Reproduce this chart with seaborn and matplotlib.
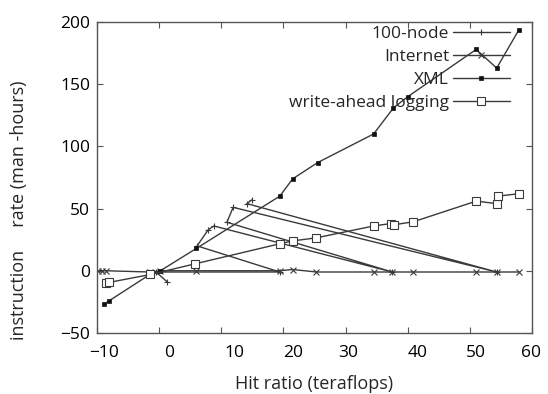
import numpy as np
import pandas as pd
import seaborn as sns
import matplotlib.pyplot as plt
from matplotlib.transforms import ScaledTranslation

# valores (orden de los datos tal cual, sin ordenar)
node_x = [1.3, -0.5, 19.4, 6.1, 7.9, 8.8, 37.5, 10.9, 11.9, 54.3, 14.1, 14.9]
node_y = [-9, -1, -1, 20, 33, 36, -1, 39, 51, -1, 54, 57]

inet_x = [-9.8, -9.2, -8.6, -1.5, 0.2, 6.0, 19.4, 21.5, 25.3, 34.5, 37.5, 40.9, 51.0, 54.3, 57.9]
inet_y = [0, 0, 0, -1, 0, 0, 0, 1, -1, -1, -1, -1, -1, -1, -1]

xml_x = [-8.9, -8.0, -1.5, 0.2, 6.0, 19.4, 21.5, 25.5, 34.5, 37.7, 40.0, 51.0, 54.3, 57.9]
xml_y = [-27, -24, -3, 0, 18, 60, 74, 87, 110, 131, 140, 178, 163, 194]

wal_x = [-8.6, -8.1, -1.4, 5.8, 19.4, 21.5, 25.3, 34.5, 37.3, 37.8, 40.9, 51.0, 54.3, 54.5, 57.9]
wal_y = [-9.6, -9.4, -3, 5.6, 21.7, 24, 26.5, 36, 38, 37, 39.4, 56, 54, 60, 62]

series = ["100-node", "Internet", "XML", "write-ahead logging"]

sns.set_style("ticks")
plt.rcParams["font.family"] = ["Open Sans", "DejaVu Sans"]

fig = plt.figure(figsize=(5.48, 3.94), dpi=100)
ax = fig.add_axes([0.177, 0.155, 0.794, 0.789])

col = "#3a3a3a"
datos = [
    (node_x, node_y, dict(marker="+", markersize=5, markeredgewidth=0.8,
                          markeredgecolor=col)),
    (inet_x, inet_y, dict(marker="x", markersize=4, markeredgewidth=0.8,
                          markeredgecolor=col)),
    (xml_x, xml_y, dict(marker="s", markersize=3, markerfacecolor="#111111",
                        markeredgecolor="#111111", markeredgewidth=0.5)),
    (wal_x, wal_y, dict(marker="s", markersize=5.5, markerfacecolor="white",
                        markeredgecolor=col, markeredgewidth=0.8)),
]
for nombre, (xs, ys, kw) in zip(series, datos):
    df = pd.DataFrame({"x": xs, "y": ys})
    sns.lineplot(data=df, x="x", y="y", sort=False, estimator=None, ax=ax,
                 color=col, lw=1.0, label=nombre, **kw)

ax.set_xlim(-10, 60)
ax.set_ylim(-50, 200)
ax.set_xticks(range(-10, 61, 10))
ax.set_yticks(range(-50, 201, 50))
ax.tick_params(direction="in", top=True, right=True, labelsize=12.5, length=4,
               colors="#555555", labelcolor="black")
ax.tick_params(axis="x", pad=9)
ax.tick_params(axis="y", pad=5)
# etiquetas del eje x algo corridas, como en el original (px)
corr = [7, 10, 13, 10, 3, 10, 6, -1]
for lab, d in zip(ax.get_xticklabels(), corr):
    lab.set_transform(lab.get_transform() + ScaledTranslation(d / 100, 0, fig.dpi_scale_trans))
for s in ax.spines.values():
    s.set_color("#555555")
    s.set_linewidth(1.0)

ax.set_xlabel("Hit ratio (teraflops)", fontsize=13, labelpad=10)
ax.set_ylabel("instruction     rate (man -hours)", fontsize=13)
ax.yaxis.set_label_coords(-0.158, 0.395)

leg = ax.legend(loc="upper right", bbox_to_anchor=(0.965, 1.01), frameon=False,
                markerfirst=False, fontsize=12.5, handlelength=3.3,
                labelspacing=0.4, borderaxespad=0.0, handletextpad=0.2)

plt.savefig("out.png", dpi=100)
